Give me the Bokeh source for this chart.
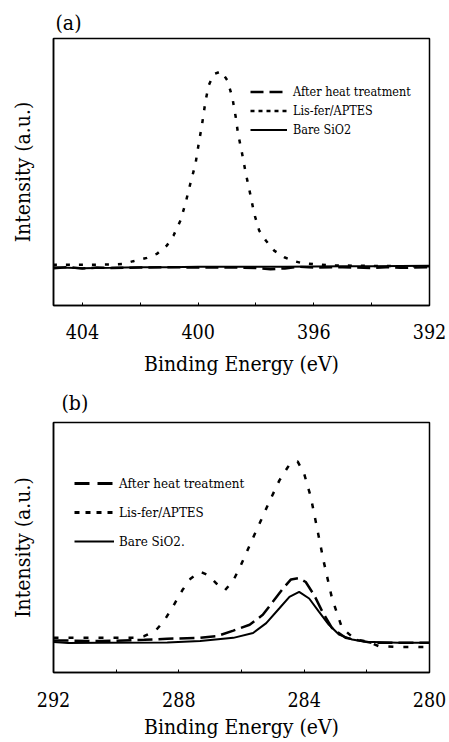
from bokeh.plotting import figure
from bokeh.models import Range1d, FixedTicker, Legend, LegendItem, Title
from bokeh.layouts import column
from bokeh.embed import file_html
from bokeh.resources import INLINE

FONT = "DejaVu Serif Condensed, DejaVu Serif"
NAN = float("nan")

# ---------------- Panel (a): N 1s ----------------
a_major_ticks = [404, 400, 396, 392]
a_minor_ticks = [402, 398, 394]
a_labels = ["After heat treatment", "Lis-fer/APTES", "Bare SiO2"]

a_lis_x = [405.02, 403.98, 403.05, 402.59, 402.24, 401.77, 401.43, 401.08, 400.85,
           400.61, 400.44, 400.27, 400.09, 399.98, 399.86, 399.74, 399.63, 399.46,
           399.20, 398.99, 398.82, 398.70, 398.62, 398.50, 398.35, 398.20, 398.06,
           397.89, 397.66, 397.37, 397.02, 396.67, 396.44, 395.86, 395.28, 394.12,
           392.96, 391.95]
a_lis_y = [0.012, 0.012, 0.014, 0.017, 0.031, 0.048, 0.068, 0.111, 0.162,
           0.239, 0.325, 0.427, 0.530, 0.632, 0.735, 0.855, 0.932, 0.988,
           1.003, 0.957, 0.872, 0.769, 0.684, 0.598, 0.479, 0.376, 0.274,
           0.188, 0.137, 0.085, 0.051, 0.031, 0.022, 0.014, 0.009, 0.007,
           0.005, 0.005]

a_heat_x = [405.0, 404.5, 404.0, 403.5, 403.0, 402.0, 401.0, 400.0, 399.0, 398.0,
            397.5, 397.0, 396.5, 396.0, 395.0, 394.0, 393.5, 393.0, 392.0]
a_heat_y = [-0.005, 0.0, -0.006, -0.002, -0.004, -0.002, 0.0, -0.002, -0.001, -0.004,
            -0.010, -0.006, 0.002, -0.002, 0.0, -0.004, 0.0, -0.003, 0.0]

a_bare_x = [405.0, 404.0, 403.0, 402.0, 401.0, 400.0, 399.0, 398.0, 397.0, 396.0,
            395.0, 394.0, 393.0, 392.0]
a_bare_y = [0.0, -0.005, -0.003, 0.0, 0.0, 0.002, 0.003, 0.003, 0.002, 0.004,
            0.005, 0.005, 0.006, 0.007]

# ---------------- Panel (b): C 1s ----------------
b_major_ticks = [292, 288, 284, 280]
b_minor_ticks = [290, 286, 282]
b_labels = ["After heat treatment", "Lis-fer/APTES", "Bare SiO2."]

b_lis_x = [292.0, 290.47, 289.42, 289.11, 288.74, 288.47, 288.16, 287.89, 287.63,
           287.32, 287.05, 286.79, 286.53, 286.26, 286.05, 285.84, 285.63, 285.37,
           285.11, 284.79, 284.47, 284.21, 284.0, 283.79, 283.58, 283.37, 283.11,
           282.79, 282.37, 281.95, 281.63, 281.0, 280.0]
b_lis_y = [0.027, 0.027, 0.027, 0.036, 0.067, 0.121, 0.208, 0.289, 0.353,
           0.392, 0.371, 0.325, 0.289, 0.344, 0.416, 0.497, 0.579, 0.678,
           0.778, 0.895, 0.982, 1.0, 0.931, 0.805, 0.624, 0.443, 0.244,
           0.081, 0.018, 0.005, -0.018, -0.024, -0.024]

b_heat_x = [292.0, 290.47, 289.1, 288.37, 287.32, 286.79, 286.26, 285.74, 285.32,
            285.0, 284.68, 284.42, 284.16, 283.95, 283.68, 283.42, 283.11, 282.68,
            282.26, 281.84, 281.0, 280.0]
b_heat_y = [0.013, 0.009, 0.016, 0.022, 0.027, 0.036, 0.067, 0.099, 0.154,
            0.226, 0.298, 0.349, 0.356, 0.335, 0.262, 0.172, 0.081, 0.027,
            0.013, 0.0, 0.0, 0.0]

b_bare_x = [292.0, 291.53, 290.47, 288.37, 287.32, 286.26, 285.63, 285.21, 284.79,
            284.47, 284.16, 283.84, 283.53, 283.21, 282.89, 282.47, 282.05, 281.0, 280.0]
b_bare_y = [0.004, -0.002, 0.0, 0.002, 0.009, 0.027, 0.054, 0.108, 0.190,
            0.253, 0.280, 0.244, 0.172, 0.099, 0.045, 0.018, 0.005, 0.0, 0.0]


def make_panel(tag, width, height, borders, xr, yr, major, minor,
               title_offset, title_standoff, tick_standoff, label_standoff):
    left, right, top, bottom = borders
    p = figure(width=width, height=height, output_backend="svg", toolbar_location=None,
               x_range=Range1d(*xr), y_range=Range1d(*yr),
               min_border_left=left, min_border_right=right,
               min_border_top=top, min_border_bottom=bottom)
    p.background_fill_color = "white"
    p.border_fill_color = "white"
    p.outline_line_color = "black"
    p.outline_line_width = 1.5
    p.xgrid.grid_line_color = None
    p.ygrid.grid_line_color = None

    p.add_layout(Title(text=tag, align="left", offset=title_offset, standoff=title_standoff,
                       text_font=FONT, text_font_size="21px", text_font_style="normal",
                       text_color="black"), "above")

    p.xaxis.ticker = FixedTicker(ticks=major, minor_ticks=minor)
    p.xaxis.axis_label = "Binding Energy (eV)"
    p.xaxis.axis_label_text_font = FONT
    p.xaxis.axis_label_text_font_size = "21px"
    p.xaxis.axis_label_text_font_style = "normal"
    p.xaxis.axis_label_text_color = "black"
    p.xaxis.axis_label_standoff = label_standoff
    p.xaxis.major_label_text_font = FONT
    p.xaxis.major_label_text_font_size = "19.5px"
    p.xaxis.major_label_text_color = "black"
    p.xaxis.major_label_standoff = tick_standoff
    p.xaxis.major_tick_in = 3
    p.xaxis.major_tick_out = 0
    p.xaxis.minor_tick_in = 3
    p.xaxis.minor_tick_out = 0
    p.xaxis.major_tick_line_color = "black"
    p.xaxis.minor_tick_line_color = "black"
    p.xaxis.axis_line_color = "black"
    p.xaxis.axis_line_width = 1.5

    p.yaxis.ticker = FixedTicker(ticks=[])
    p.yaxis.major_tick_in = 0
    p.yaxis.major_tick_out = 0
    p.yaxis.minor_tick_in = 0
    p.yaxis.minor_tick_out = 0
    p.yaxis.major_label_standoff = 0
    p.yaxis.axis_label = "Intensity (a.u.)"
    p.yaxis.axis_label_text_font = FONT
    p.yaxis.axis_label_text_font_size = "21px"
    p.yaxis.axis_label_text_font_style = "normal"
    p.yaxis.axis_label_text_color = "black"
    p.yaxis.axis_label_standoff = 19
    p.yaxis.axis_line_color = "black"
    p.yaxis.axis_line_width = 1.5
    return p


# ---------- figure (a) ----------
pa = make_panel("(a)", 449, 380, (53, 20, 38, 75), (405.0, 392.0), (-0.196, 1.171),
                a_major_ticks, a_minor_ticks, 2, 8, 18, 10)
pa.line(a_bare_x, a_bare_y, line_color="black", line_width=2)
pa.line(a_heat_x, a_heat_y, line_color="black", line_width=2.5, line_dash="13 6")
pa.line(a_lis_x, a_lis_y, line_color="black", line_width=2.5, line_dash="4 9")

la_heat = pa.line([NAN], [NAN], line_color="black", line_width=2.5, line_dash="13 6")
la_lis = pa.line([NAN], [NAN], line_color="black", line_width=2.5, line_dash="4 4")
la_bare = pa.line([NAN], [NAN], line_color="black", line_width=2)
leg_a = Legend(items=[LegendItem(label=a_labels[0], renderers=[la_heat]),
                      LegendItem(label=a_labels[1], renderers=[la_lis]),
                      LegendItem(label=a_labels[2], renderers=[la_bare])],
               location=(197, 168), margin=0, padding=0, spacing=4,
               glyph_width=37, glyph_height=15, label_height=15, label_standoff=6,
               label_text_font=FONT, label_text_font_size="12.5px", label_text_color="black",
               border_line_color=None, background_fill_alpha=0)
pa.add_layout(leg_a, "center")

# ---------- figure (b) ----------
pb = make_panel("(b)", 449, 362, (52, 17, 38, 70), (292.0, 280.0), (-0.164, 1.214),
                b_major_ticks, b_minor_ticks, 8, 16, 19, 5)
pb.line(b_bare_x, b_bare_y, line_color="black", line_width=2)
pb.line(b_heat_x, b_heat_y, line_color="black", line_width=2.5, line_dash="15 6")
pb.line(b_lis_x, b_lis_y, line_color="black", line_width=2.5, line_dash="5 10")

lb_heat = pb.line([NAN], [NAN], line_color="black", line_width=3, line_dash="15 8")
lb_lis = pb.line([NAN], [NAN], line_color="black", line_width=3, line_dash="5 6")
lb_bare = pb.line([NAN], [NAN], line_color="black", line_width=2.2)
leg_b = Legend(items=[LegendItem(label=b_labels[0], renderers=[lb_heat]),
                      LegendItem(label=b_labels[1], renderers=[lb_lis]),
                      LegendItem(label=b_labels[2], renderers=[lb_bare])],
               location=(21, 121), margin=0, padding=0, spacing=9,
               glyph_width=40, glyph_height=20, label_height=20, label_standoff=5,
               label_text_font=FONT, label_text_font_size="13.3px", label_text_color="black",
               border_line_color=None, background_fill_alpha=0)
pb.add_layout(leg_b, "center")

layout = column(pa, pb, spacing=0)
open("out.html", "w").write(file_html(layout, INLINE))
